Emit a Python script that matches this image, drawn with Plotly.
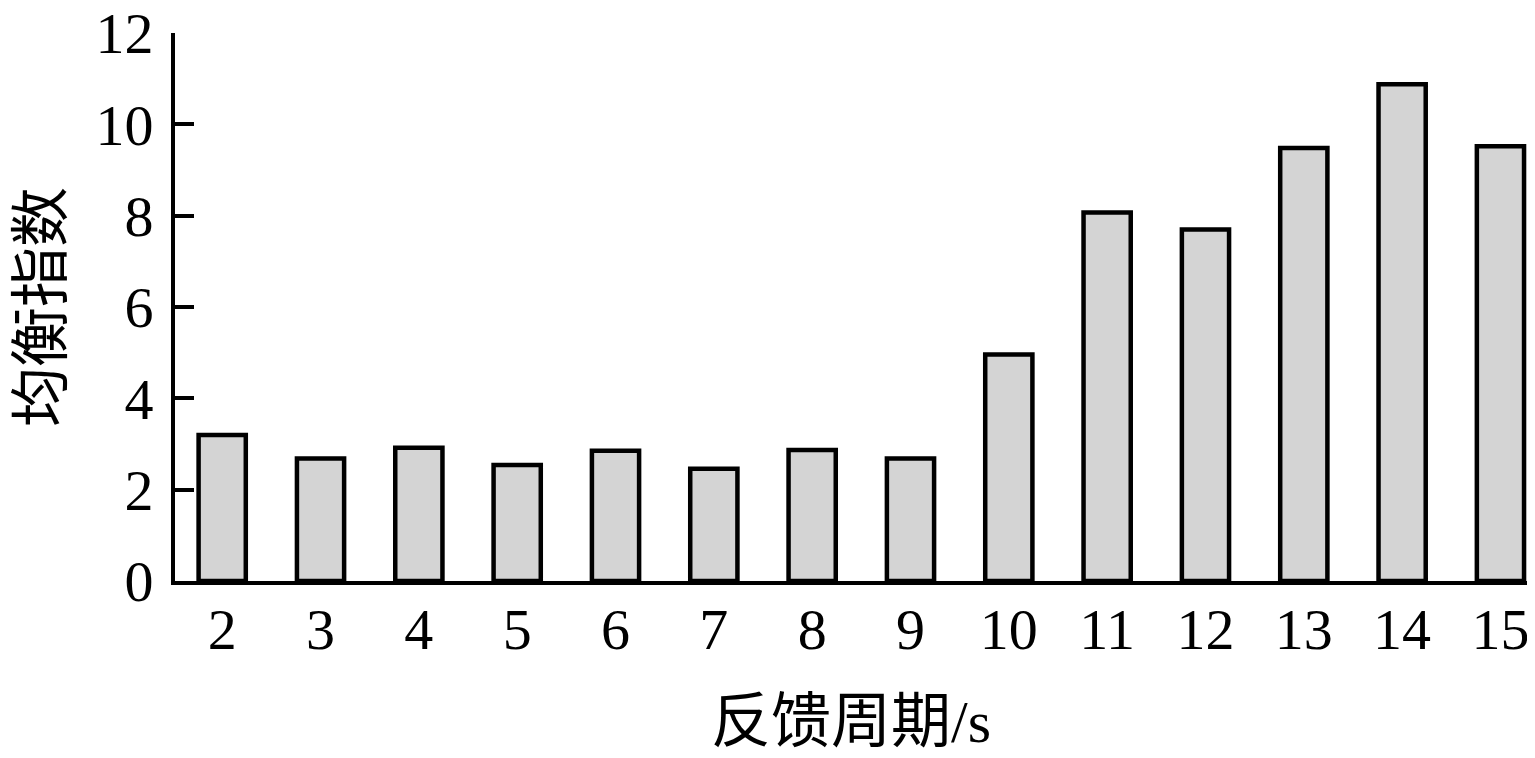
import plotly.graph_objects as go

periods = [2, 3, 4, 5, 6, 7, 8, 9, 10, 11, 12, 13, 14, 15]
balance_index = [3.20, 2.68, 2.92, 2.54, 2.85, 2.46, 2.87, 2.68, 4.96, 8.07, 7.70, 9.48, 10.88, 9.52]
y_ticks = [0, 2, 4, 6, 8, 10, 12]

x_title = "反馈周期/s"
y_title = "均衡指数"

serif = "Liberation Serif, Times New Roman, serif"
cjk = "Liberation Serif, Noto Sans CJK SC, serif"

fig = go.Figure()
fig.add_trace(go.Bar(
    x=periods, y=balance_index, width=0.48,
    marker=dict(color="#d4d4d4", line=dict(color="black", width=4.5)),
))

fig.update_layout(
    width=1527, height=750,
    margin=dict(l=167, r=8, t=25, b=177),
    plot_bgcolor="white", paper_bgcolor="white",
    showlegend=False,
    font=dict(family=serif, color="black", size=58),
)
fig.update_xaxes(
    range=[1.52, 15.27], tickmode="array", tickvals=periods,
    ticktext=[str(p) for p in periods],
    showline=True, linecolor="black", linewidth=4, ticks="",
    showgrid=False, zeroline=False, ticklabelstandoff=-6,
    tickfont=dict(family=serif, size=58), automargin=False,
    ticklabeloverflow="allow",
    title=dict(text=x_title, font=dict(family=cjk, size=60), standoff=40),
)
fig.update_yaxes(
    range=[0, 12.001], tickmode="array", tickvals=y_ticks,
    showline=True, linecolor="black", linewidth=4,
    ticks="inside", ticklen=19, tickwidth=4, tickcolor="black",
    showgrid=False, zeroline=False, ticklabelstandoff=6,
    tickfont=dict(family=serif, size=58), automargin=False,
    ticklabeloverflow="allow",
    title=dict(text=y_title, font=dict(family=cjk, size=60), standoff=14),
)

fig.write_html("out.html")
